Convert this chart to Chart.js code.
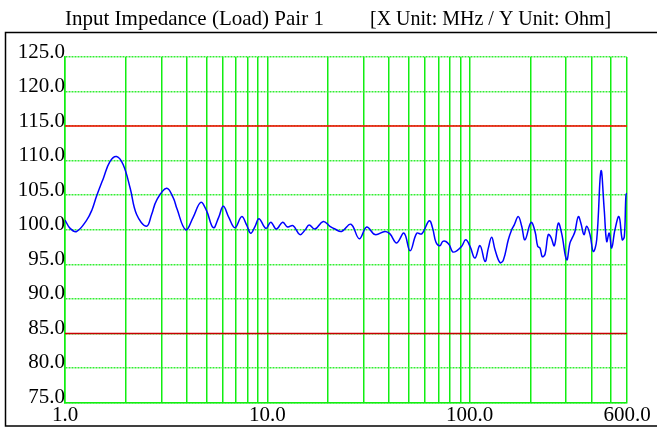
<!DOCTYPE html>
<html>
<head>
<meta charset="utf-8">
<script src="https://cdn.jsdelivr.net/npm/chart.js@4"></script>
<style>
  body { margin: 0; background: #fff; }
</style>
</head>
<body>
<canvas id="impChart" width="657" height="428"></canvas>
<script>
const freqMHz = [
  1.0, 1.06, 1.14, 1.28, 1.36, 1.43, 1.55, 1.67, 1.80, 1.94, 2.10, 2.26, 2.53, 2.68, 2.84,
  3.18, 3.43, 3.57, 3.95, 4.3, 4.69, 5.0, 5.41, 5.75, 6.06, 6.45, 6.92, 7.47, 7.9, 8.28,
  8.7, 9.10, 9.85, 10.4, 11.1, 11.9, 12.6, 13.4, 14.5, 15.4, 16.1, 17.2, 18.9, 20.4, 21.6,
  23.3, 25.9, 28.5, 31.0, 34.1, 38.2, 40.4, 43.6, 47.4, 50.8, 54.8, 58.0, 63.2, 65.7, 68.2,
  71.4, 73.6, 76.4, 79.4, 82.5, 86.4, 91.4, 95.7, 100.5, 106.3, 112.6, 119.2, 123.7, 128.6, 133.6,
  141.3, 146.8, 155.4, 161.5, 166.3, 174.1, 181, 187.9, 201.2, 210.6, 217.1, 222.8, 228.8, 236, 244.9,
  252.6, 262.3, 274.5, 285, 302, 313.6, 324, 331.9, 344.6, 355, 367.7, 379, 393.7, 408.9, 425,
  446.2, 463, 476.2, 490, 504, 523, 547.7, 568.6, 582, 593, 600
];
const impedanceOhm = [
  101.4, 100.2, 99.75, 101.4, 102.9, 104.8, 107.5, 109.9, 110.6, 109.4, 106.0, 102.2, 100.5, 102.2, 104.3,
  106.0, 104.6, 103.1, 100.0, 101.8, 103.95, 102.8, 100.3, 101.8, 103.4, 101.8, 100.3, 101.9, 100.7, 99.5,
  100.5, 101.6, 100.2, 101.1, 100.1, 101.1, 100.4, 100.6, 99.3, 100.0, 100.7, 100.1, 101.2, 100.5, 100.1,
  99.75, 100.8, 98.7, 100.4, 99.3, 99.75, 99.4, 98.1, 99.5, 96.95, 99.5, 99.4, 101.3, 100.2, 98.2,
  97.7, 98.3, 98.3, 97.8, 96.8, 96.95, 97.6, 98.55, 97.6, 95.9, 97.7, 95.4, 97.3, 98.9, 97.1,
  95.25, 95.6, 98.55, 100.0, 100.7, 101.9, 100.5, 98.55, 101.05, 99.75, 97.6, 97.35, 96.1, 96.45, 99.3,
  98.9, 97.7, 100.95, 99.5, 95.65, 98.1, 99.0, 99.75, 101.9, 100.95, 99.3, 100.5, 99.3, 96.85, 98.55,
  108.5, 102.9, 98.3, 99.5, 97.35, 100.0, 101.9, 98.55, 99.0, 105.05, 105.3
];
const upperLimit = 115;
const lowerLimit = 85;
const xRange = [1, 600];
const xGridTicks = [1, 2, 3, 4, 5, 6, 7, 8, 9, 10, 20, 30, 40, 50, 60, 70, 80, 90,
  100, 200, 300, 400, 500, 600];
const xLabelTicks = [1, 10, 100, 600];
const yRange = [75, 125];
const yStep = 5;
const titleLeft = "Input Impedance (Load) Pair 1";
const titleRight = "[X Unit: MHz / Y Unit: Ohm]";

const serif = "'Liberation Serif', 'Times New Roman', serif";

// white page, black frame and the two-part title line
const framePlugin = {
  id: "frame",
  beforeDraw(chart) {
    const ctx = chart.ctx;
    ctx.save();
    ctx.fillStyle = "#fff";
    ctx.fillRect(0, 0, chart.width, chart.height);
    ctx.strokeStyle = "#000";
    ctx.lineWidth = 1.5;
    ctx.strokeRect(5.5, 32.5, chart.width, 393.5);
    ctx.fillStyle = "#000";
    ctx.textBaseline = "middle";
    ctx.font = "21px " + serif;
    ctx.fillText(titleLeft, 65, 19.5);
    ctx.font = "20px " + serif;
    ctx.fillText(titleRight, 370, 19.5);
    ctx.restore();
  }
};

const ctx = document.getElementById("impChart").getContext("2d");
const impChart = new Chart(ctx, {
  type: "line",
  data: {
    datasets: [
      {
        data: freqMHz.map((f, i) => ({ x: f, y: impedanceOhm[i] })),
        borderColor: "#0000ff",
        borderWidth: 1.5,
        pointRadius: 0,
        tension: 0.4,
      },
      {
        data: xRange.map((f) => ({ x: f, y: upperLimit })),
        borderColor: "#ff0000",
        borderWidth: 1.5,
        pointRadius: 0,
      },
      {
        data: xRange.map((f) => ({ x: f, y: lowerLimit })),
        borderColor: "#c80000",
        borderWidth: 1.5,
        pointRadius: 0,
      },
    ],
  },
  options: {
    responsive: false,
    animation: false,
    layout: { padding: { top: 57, right: 30, left: 0, bottom: 0 } },
    plugins: {
      legend: { display: false },
      tooltip: { enabled: false },
    },
    scales: {
      x: {
        type: "logarithmic",
        min: xRange[0],
        max: xRange[1],
        afterBuildTicks: (scale) => {
          scale.ticks = xGridTicks.map((v) => ({ value: v }));
        },
        afterFit: (scale) => { scale.height = 25.5; },
        grid: { color: "#11ee11", lineWidth: 1.5, drawTicks: false },
        border: { color: "#11ee11", width: 1.5 },
        ticks: {
          autoSkip: false,
          maxRotation: 0,
          padding: 0,
          color: "#000",
          font: { family: serif, size: 21 },
          callback: (v) => (xLabelTicks.includes(v) ? v.toFixed(1) : ""),
        },
      },
      y: {
        min: yRange[0],
        max: yRange[1],
        afterFit: (scale) => { scale.width = 65; },
        grid: { color: "#33ee33", lineWidth: 1.5, drawTicks: false },
        border: { color: "#11ee11", width: 1.5, dash: [2, 1] },
        ticks: {
          stepSize: yStep,
          padding: 0,
          labelOffset: -5,
          color: "#000",
          font: { family: serif, size: 21 },
          callback: (v) => v.toFixed(1),
        },
      },
    },
  },
  plugins: [framePlugin],
});
</script>
</body>
</html>
